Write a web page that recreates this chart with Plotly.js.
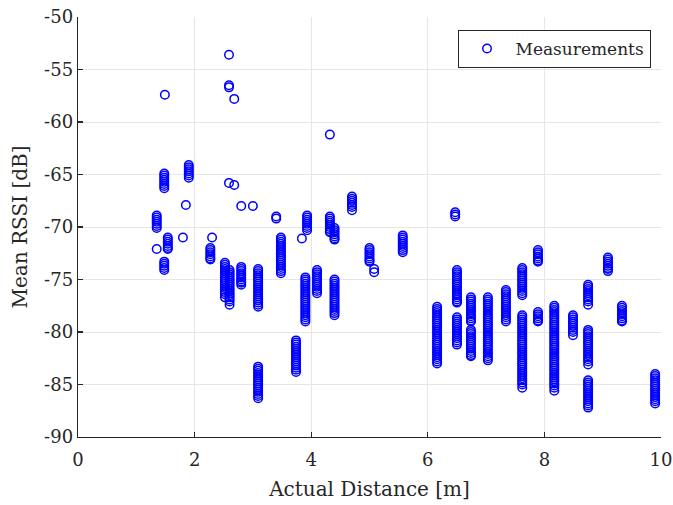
<!DOCTYPE html>
<html>
<head>
<meta charset="utf-8">
<script src="https://cdn.plot.ly/plotly-3.0.1.min.js"></script>
<style>html,body{margin:0;padding:0;background:#fff;}#chart{width:673px;height:505px;}</style>
</head>
<body>
<div id="chart"></div>
<script>
// Actual distance [m] of each measurement group
const distances = [1.35, 1.49, 1.48, 1.54, 1.85, 1.80, 1.90, 2.30, 2.27, 2.52,
  2.59, 2.60, 2.68, 2.80, 3.00, 3.09, 3.40, 3.48, 3.74, 3.84,
  3.93, 3.90, 4.10, 4.32, 4.40, 4.70, 5.00, 5.08, 5.57, 6.16,
  6.47, 6.50, 6.74, 7.03, 7.34, 7.62, 7.89, 8.17, 8.49, 8.75,
  9.09, 9.33, 9.90];
// Mean RSSI [dB] values for each group
const rssiGroups = [
  [-68.9,-69.1,-69.3,-69.5,-69.7,-69.9,-70.1,-72.1],
  [-57.4],
  [-64.9,-65.1,-65.3,-65.5,-65.7,-65.9,-66.1,-66.3,-73.3,-73.5,-73.7,-73.9,-74.1],
  [-71.0,-71.2,-71.4,-71.6,-71.8,-72.0,-72.1],
  [-67.9],
  [-71.0],
  [-64.1,-64.3,-64.5,-64.7,-64.9,-65.1,-65.3],
  [-71.0],
  [-72.0,-72.2,-72.4,-72.6,-72.8,-73.0,-73.1],
  [-73.4,-73.6,-73.8,-74.0,-74.2,-74.4,-74.6,-74.8,-75.0,-75.2,-75.4,-75.6,-75.8,-76.0,-76.2,-76.4,-76.7],
  [-53.6,-56.5,-56.7,-65.8],
  [-74.1,-74.3,-74.5,-74.7,-74.9,-75.1,-75.3,-75.5,-75.7,-75.9,-76.1,-76.3,-76.5,-76.7,-76.9,-77.1,-77.4],
  [-57.8,-66.0],
  [-68.0,-73.8,-74.0,-74.2,-74.4,-74.6,-74.8,-75.0,-75.2,-75.3,-75.5],
  [-68.0],
  [-74.0,-74.2,-74.4,-74.6,-74.8,-75.0,-75.2,-75.4,-75.6,-75.8,-76.0,-76.2,-76.4,-76.6,-76.8,-77.0,-77.2,-77.4,-77.6,
   -83.3,-83.5,-83.7,-83.9,-84.1,-84.3,-84.5,-84.7,-84.9,-85.1,-85.3,-85.5,-85.7,-85.9,-86.1,-86.3],
  [-69.0,-69.2],
  [-71.0,-71.2,-71.4,-71.6,-71.8,-72.0,-72.2,-72.4,-72.6,-72.8,-73.0,-73.2,-73.4,-73.6,-73.8,-74.0,-74.2,-74.4],
  [-80.8,-81.0,-81.2,-81.4,-81.6,-81.8,-82.0,-82.2,-82.4,-82.6,-82.8,-83.0,-83.2,-83.4,-83.6,-83.8],
  [-71.1],
  [-68.9,-69.1,-69.3,-69.5,-69.7,-69.9,-70.1,-70.3],
  [-74.8,-75.0,-75.2,-75.4,-75.6,-75.8,-76.0,-76.2,-76.4,-76.6,-76.8,-77.0,-77.2,-77.4,-77.6,-77.8,-78.0,-78.2,-78.4,-78.6,-78.8,-79.0],
  [-74.1,-74.3,-74.5,-74.7,-74.9,-75.1,-75.3,-75.5,-75.7,-75.9,-76.1,-76.3],
  [-61.2,-69.0,-69.2,-69.4,-69.6,-69.8,-70.0,-70.2,-70.4,-70.5],
  [-70.1,-70.3,-70.5,-70.7,-70.9,-71.1,-71.2,-75.0,-75.2,-75.4,-75.6,-75.8,-76.0,-76.2,-76.4,-76.6,-76.8,-77.0,-77.2,-77.4,-77.6,-77.8,-78.0,-78.2,-78.4],
  [-67.1,-67.3,-67.5,-67.7,-67.9,-68.1,-68.4],
  [-72.0,-72.2,-72.4,-72.6,-72.8,-73.0,-73.2,-73.3],
  [-74.0,-74.3],
  [-70.8,-71.0,-71.2,-71.4,-71.6,-71.8,-72.0,-72.2,-72.4],
  [-77.6,-77.8,-78.0,-78.2,-78.4,-78.6,-78.8,-79.0,-79.2,-79.4,-79.6,-79.8,-80.0,-80.2,-80.4,-80.6,-80.8,-81.0,-81.2,-81.4,-81.6,-81.8,-82.0,-82.2,-82.4,-82.6,-82.8,-83.0],
  [-68.6,-68.8,-69.0],
  [-74.1,-74.3,-74.5,-74.7,-74.9,-75.1,-75.3,-75.5,-75.7,-75.9,-76.1,-76.3,-76.5,-76.7,-76.9,-77.1,-77.2,
   -78.6,-78.8,-79.0,-79.2,-79.4,-79.6,-79.8,-80.0,-80.2,-80.4,-80.6,-80.8,-81.0,-81.2],
  [-76.7,-76.9,-77.1,-77.3,-77.5,-77.7,-77.9,-78.1,-78.3,-78.5,-78.7,-78.9,-79.0,
   -79.8,-80.0,-80.2,-80.4,-80.6,-80.8,-81.0,-81.2,-81.4,-81.6,-81.8,-82.0,-82.2,-82.3],
  [-76.7,-76.9,-77.1,-77.3,-77.5,-77.7,-77.9,-78.1,-78.3,-78.5,-78.7,-78.9,-79.1,-79.3,-79.5,-79.7,-79.9,
   -80.1,-80.3,-80.5,-80.7,-80.9,-81.1,-81.3,-81.5,-81.7,-81.9,-82.1,-82.3,-82.5,-82.7],
  [-76.0,-76.2,-76.4,-76.6,-76.8,-77.0,-77.2,-77.4,-77.6,-77.8,-78.0,-78.2,-78.4,-78.6,-78.8,-79.0],
  [-73.9,-74.1,-74.3,-74.5,-74.7,-74.9,-75.1,-75.3,-75.5,-75.7,-75.9,-76.1,-76.3,-76.5,
   -78.4,-78.6,-78.8,-79.0,-79.2,-79.4,-79.6,-79.8,-80.0,-80.2,-80.4,-80.6,-80.8,-81.0,-81.2,-81.4,-81.6,-81.8,
   -82.0,-82.2,-82.4,-82.6,-82.8,-83.0,-83.2,-83.4,-83.6,-83.8,-84.0,-84.2,-84.4,-84.6,-84.8,-85.0,-85.3],
  [-72.2,-72.4,-72.6,-72.8,-73.0,-73.2,-73.3,-78.1,-78.3,-78.5,-78.7,-78.9,-79.0],
  [-77.5,-77.7,-77.9,-78.1,-78.3,-78.5,-78.7,-78.9,-79.1,-79.3,-79.5,-79.7,-79.9,-80.1,-80.3,-80.5,-80.7,-80.9,
   -81.1,-81.3,-81.5,-81.7,-81.9,-82.1,-82.3,-82.5,-82.7,-82.9,-83.1,-83.3,-83.5,-83.7,-83.9,-84.1,-84.3,-84.5,
   -84.7,-84.9,-85.1,-85.3,-85.6],
  [-78.4,-78.6,-78.8,-79.0,-79.2,-79.4,-79.6,-79.8,-80.0,-80.3],
  [-75.5,-75.7,-75.9,-76.1,-76.3,-76.5,-76.7,-76.9,-77.1,-77.4,
   -79.8,-80.0,-80.2,-80.4,-80.6,-80.8,-81.0,-81.2,-81.4,-81.6,-81.8,-82.0,-82.2,-82.4,-82.6,-82.8,-83.1,
   -84.6,-84.8,-85.0,-85.2,-85.4,-85.6,-85.8,-86.0,-86.2,-86.4,-86.6,-86.8,-87.0,-87.2],
  [-72.9,-73.1,-73.3,-73.5,-73.7,-73.9,-74.0,-74.2],
  [-77.5,-77.7,-77.9,-78.1,-78.3,-78.5,-78.7,-78.9,-79.0],
  [-84.0,-84.2,-84.4,-84.6,-84.8,-85.0,-85.2,-85.4,-85.6,-85.8,-86.0,-86.2,-86.4,-86.6,-86.8]
];
const xTicks = [0, 2, 4, 6, 8, 10];
const yTicks = [-90, -85, -80, -75, -70, -65, -60, -55, -50];

const xs = [], ys = [];
distances.forEach((d, i) => {
  rssiGroups[i].forEach(v => { xs.push(d); ys.push(v); });
});

const fontFam = '"DejaVu Serif", "Liberation Serif", serif';
const textCol = '#262626';
const axisCommon = {
  showline: true, linecolor: '#262626', linewidth: 1.3, mirror: false,
  showgrid: true, gridcolor: '#e6e6e6', gridwidth: 1,
  zeroline: false, ticks: 'inside', ticklen: 5, tickwidth: 1.3, tickcolor: '#262626',
  tickfont: {family: fontFam, size: 18, color: textCol}
};

const trace = {
  x: xs, y: ys, type: 'scatter', mode: 'markers', name: 'Measurements',
  marker: {symbol: 'circle-open', size: 8.5, color: '#0000ff', line: {width: 1.5, color: '#0000ff'}},
  hoverinfo: 'skip'
};

const layout = {
  width: 673, height: 505,
  margin: {l: 78, r: 12, t: 17, b: 68},
  paper_bgcolor: '#ffffff', plot_bgcolor: '#ffffff',
  font: {family: fontFam, color: textCol},
  showlegend: true,
  legend: {
    x: 0.982, y: 0.969, xanchor: 'right', yanchor: 'top',
    bordercolor: '#262626', borderwidth: 1, bgcolor: '#ffffff',
    itemwidth: 47,
    font: {family: fontFam, size: 17, color: textCol}
  },
  xaxis: Object.assign({}, axisCommon, {
    range: [0, 10], tickvals: xTicks, ticktext: xTicks.map(String),
    ticklabelstandoff: 6,
    title: {text: 'Actual Distance [m]', font: {family: fontFam, size: 20, color: textCol}, standoff: 13}
  }),
  yaxis: Object.assign({}, axisCommon, {
    range: [-90, -50], tickvals: yTicks, ticktext: yTicks.map(String),
    title: {text: 'Mean RSSI [dB]', font: {family: fontFam, size: 20, color: textCol}, standoff: 11}
  })
};

Plotly.newPlot('chart', [trace], layout, {staticPlot: true, displayModeBar: false});
</script>
</body>
</html>
